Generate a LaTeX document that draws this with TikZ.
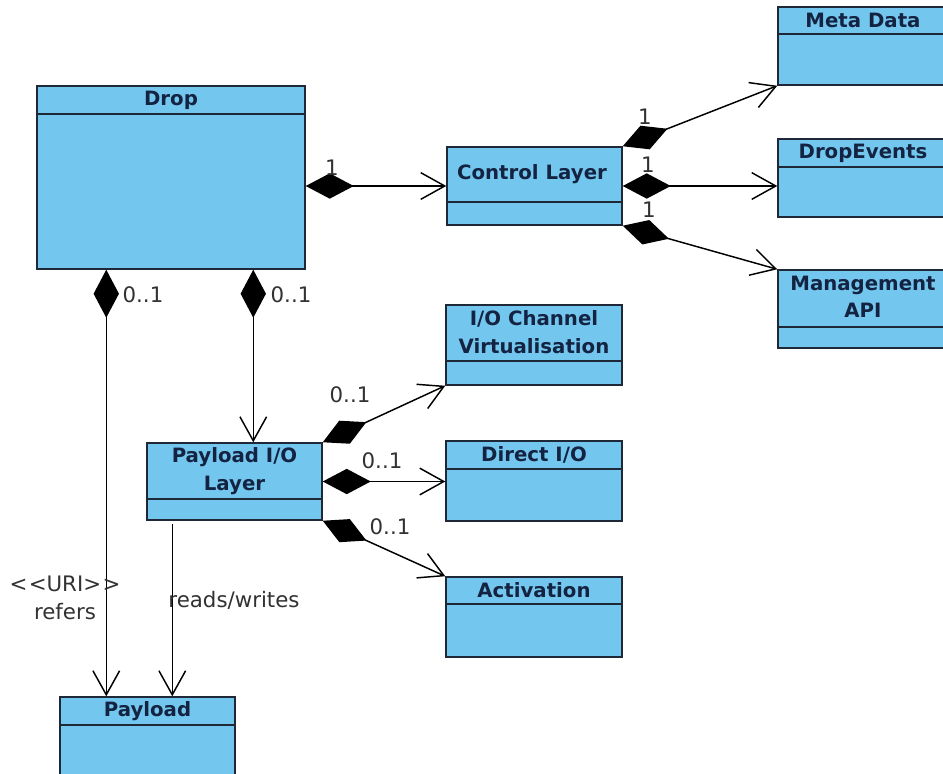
\documentclass[tikz,border=0pt]{standalone}
\usepackage{fontspec}
\setmainfont{DejaVu Sans}
\usetikzlibrary{arrows.meta,fit,calc}
\definecolor{classfill}{RGB}{115,199,239}
\definecolor{classline}{RGB}{30,40,55}
\definecolor{titleink}{RGB}{20,35,65}
\definecolor{labelink}{RGB}{50,50,50}
\begin{document}
\begin{tikzpicture}[x=0.75pt,y=-0.75pt,
  cls/.style={draw=classline, fill=classfill, line width=1.1pt, inner sep=0pt},
  divider/.style={draw=classline, line width=1.1pt},
  ttl/.style={font=\bfseries\fontsize{14.8}{20.5}\selectfont, text=titleink, align=center, inner sep=0pt},
  lbl/.style={font=\fontsize{16}{21}\selectfont, text=labelink, align=center, inner sep=0pt},
  comp/.style={draw=black, line width=1.1pt,
    {Diamond[length=36pt,width=19pt]}-{Straight Barb[length=18pt,width=20pt]}},
  assoc/.style={draw=black, line width=1.1pt, -{Straight Barb[length=18pt,width=20pt]}}
]
\useasboundingbox (0,0) rectangle (943,774);
\clip (0,0) rectangle (943,774);
\fill[white] (0,0) rectangle (943,774);

% ---- classes ----
\node[cls, fit={(37,86) (305,269)}] (drop) {};
\draw[divider] (drop.west |- 0,114) -- (drop.east |- 0,114);
\node[ttl] (dropT) at (171,100) {Drop};

\node[cls, fit={(447,147) (622,225)}] (ctrl) {};
\draw[divider] (ctrl.west |- 0,202) -- (ctrl.east |- 0,202);
\node[ttl] (ctrlT) at (532,174) {Control Layer};

\node[cls, fit={(778,7) (950,85)}] (meta) {};
\draw[divider] (meta.west |- 0,34) -- (meta.east |- 0,34);
\node[ttl] (metaT) at (863,20) {Meta Data};

\node[cls, fit={(778,139) (950,217)}] (devt) {};
\draw[divider] (devt.west |- 0,167) -- (devt.east |- 0,167);
\node[ttl] (devtT) at (863,153) {DropEvents};

\node[cls, fit={(778,270) (950,348)}] (mgmt) {};
\draw[divider] (mgmt.west |- 0,327) -- (mgmt.east |- 0,327);
\node[ttl] (mgmtT) at (863,297) {Management\\API};

\node[cls, fit={(446,305) (622,385)}] (iocv) {};
\draw[divider] (iocv.west |- 0,361) -- (iocv.east |- 0,361);
\node[ttl] (iocvT) at (534,332) {I/O Channel\\Virtualisation};

\node[cls, fit={(446,441) (622,521)}] (dio) {};
\draw[divider] (dio.west |- 0,469) -- (dio.east |- 0,469);
\node[ttl] (dioT) at (534,455) {Direct I/O};

\node[cls, fit={(446,577) (622,657)}] (act) {};
\draw[divider] (act.west |- 0,604) -- (act.east |- 0,604);
\node[ttl] (actT) at (534,590) {Activation};

\node[cls, fit={(147,443) (322,520)}] (pio) {};
\draw[divider] (pio.west |- 0,499) -- (pio.east |- 0,499);
\node[ttl] (pioT) at (234.5,471) {Payload I/O\\Layer};

\node[cls, fit={(60,697) (235,790)}] (pay) {};
\draw[divider] (pay.west |- 0,725) -- (pay.east |- 0,725);
\node[ttl] (payT) at (147.5,711) {Payload};

% ---- connectors ----
\coordinate (dropL) at ($(drop.south west)+(70,0)$);
\coordinate (dropR) at ($(drop.south west)+(217,0)$);
\coordinate (pioS) at ($(pio.south west)+(26,3)$);

\draw[comp] (drop.east |- ctrl.west) -- (ctrl.west);
\draw[comp] (dropL) -- (dropL |- pay.north);
\draw[comp] (dropR) -- (dropR |- pio.north);
\draw[assoc] (pioS) -- (pioS |- pay.north);

\draw[comp] (ctrl.north east) -- (meta.south west);
\draw[comp] (ctrl.east) -- (ctrl.east -| devt.west);
\draw[comp] (ctrl.south east) -- (mgmt.north west);

\draw[comp] (pio.north east) -- (iocv.south west);
\draw[comp] (pio.east) -- (pio.east -| dio.west);
\draw[comp] (pio.south east) -- (act.north west);

% ---- multiplicities and roles ----
\node[lbl] (mDrop) at (332,168) {1};
\node[lbl] (mPayL) at (143,295) {0..1};
\node[lbl] (mPio) at (291,295) {0..1};
\node[lbl] (mMeta) at (645,117) {1};
\node[lbl] (mDevt) at (648,165) {1};
\node[lbl] (mMgmt) at (649,210) {1};
\node[lbl] (mIocv) at (350,395) {0..1};
\node[lbl] (mDio) at (382,461) {0..1};
\node[lbl] (mAct) at (390,527) {0..1};
\node[lbl] (rw) at (234,600) {reads/writes};
\node[lbl] (uri) at (65,598) {<\kern1pt<URI>\kern1pt>\\refers};
\end{tikzpicture}
\end{document}
